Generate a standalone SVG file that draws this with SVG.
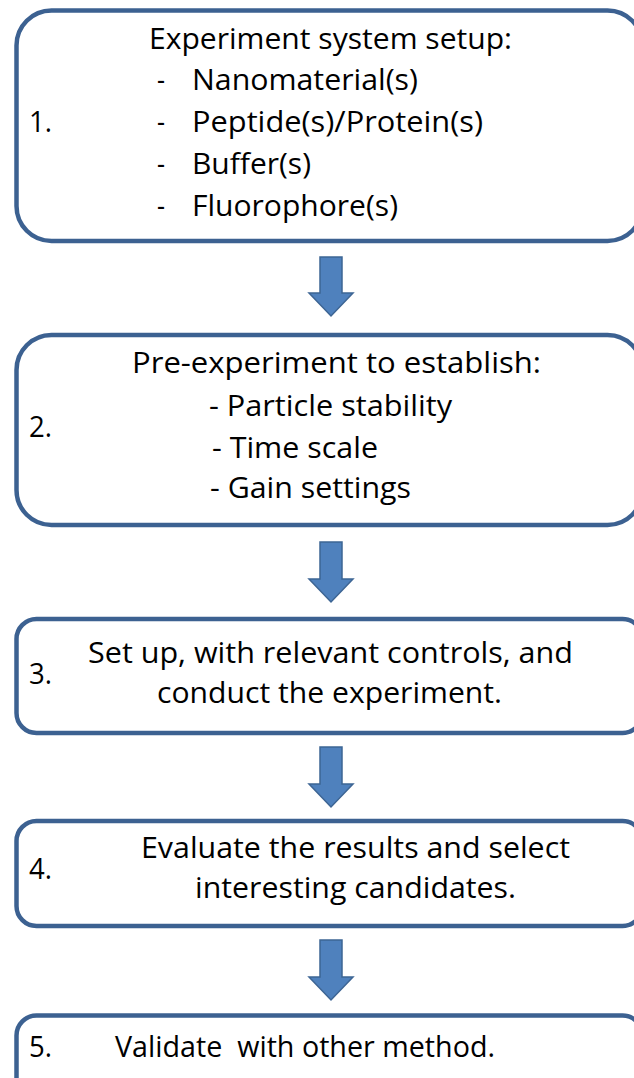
<svg xmlns="http://www.w3.org/2000/svg" width="634" height="1078" viewBox="0 0 634 1078">
<style>
.box{fill:#fff;stroke:#3c6191;stroke-width:4.5}
.arr{fill:#4f81bd;stroke:#3d6594;stroke-width:1.5}
text{font-family:"Open Sans","Noto Sans","Liberation Sans",sans-serif;font-size:29px;fill:#000}
</style>
<rect width="634" height="1078" fill="#fff"/>
<g id="node1">
<rect class="box" x="16.5" y="10.5" width="626" height="230.5" rx="35"/>
<text x="149" y="49" textLength="363" lengthAdjust="spacingAndGlyphs">Experiment system setup:</text>
<text x="29" y="132" textLength="23" lengthAdjust="spacingAndGlyphs">1.</text>
<text x="157" y="90" textLength="8" lengthAdjust="spacingAndGlyphs">-</text><text x="192" y="90" textLength="226" lengthAdjust="spacingAndGlyphs">Nanomaterial(s)</text>
<text x="157" y="132" textLength="8" lengthAdjust="spacingAndGlyphs">-</text><text x="192" y="132" textLength="291" lengthAdjust="spacingAndGlyphs">Peptide(s)/Protein(s)</text>
<text x="157" y="174" textLength="8" lengthAdjust="spacingAndGlyphs">-</text><text x="192" y="174" textLength="119" lengthAdjust="spacingAndGlyphs">Buffer(s)</text>
<text x="157" y="216" textLength="8" lengthAdjust="spacingAndGlyphs">-</text><text x="192" y="216" textLength="206" lengthAdjust="spacingAndGlyphs">Fluorophore(s)</text>
</g>
<g id="node2">
<rect class="box" x="16.5" y="335" width="626" height="190" rx="35"/>
<text x="132" y="373" textLength="409" lengthAdjust="spacingAndGlyphs">Pre-experiment to establish:</text>
<text x="29" y="437" textLength="23" lengthAdjust="spacingAndGlyphs">2.</text>
<text x="209" y="416" textLength="243" lengthAdjust="spacingAndGlyphs">- Particle stability</text>
<text x="212" y="458" textLength="166" lengthAdjust="spacingAndGlyphs">- Time scale</text>
<text x="210" y="498" textLength="201" lengthAdjust="spacingAndGlyphs">- Gain settings</text>
</g>
<g id="node3">
<rect class="box" x="16.5" y="619" width="626" height="114" rx="20"/>
<text x="88" y="663" textLength="485" lengthAdjust="spacingAndGlyphs">Set up, with relevant controls, and</text>
<text x="29" y="684" textLength="23" lengthAdjust="spacingAndGlyphs">3.</text>
<text x="157" y="703" textLength="345" lengthAdjust="spacingAndGlyphs">conduct the experiment.</text>
</g>
<g id="node4">
<rect class="box" x="16.5" y="821" width="626" height="105" rx="20"/>
<text x="141" y="858" textLength="429" lengthAdjust="spacingAndGlyphs">Evaluate the results and select</text>
<text x="29" y="879" textLength="23" lengthAdjust="spacingAndGlyphs">4.</text>
<text x="195" y="898" textLength="321" lengthAdjust="spacingAndGlyphs">interesting candidates.</text>
</g>
<g id="node5">
<rect class="box" x="16.5" y="1015.5" width="626" height="90" rx="20"/>
<text x="29" y="1057" textLength="23" lengthAdjust="spacingAndGlyphs">5.</text>
<text x="115" y="1057" textLength="380" lengthAdjust="spacingAndGlyphs" xml:space="preserve">Validate  with other method.</text>
</g>
<g id="connectors">
<path class="arr" d="M320,257 H342 V293 H353 L331,316 L309,293 H320 Z"/>
<path class="arr" d="M320,542 H342 V579 H353 L331,602 L309,579 H320 Z"/>
<path class="arr" d="M320,747 H342 V784 H353 L331,807 L309,784 H320 Z"/>
<path class="arr" d="M320,940 H342 V977 H353 L331,1000 L309,977 H320 Z"/>
</g>
</svg>
